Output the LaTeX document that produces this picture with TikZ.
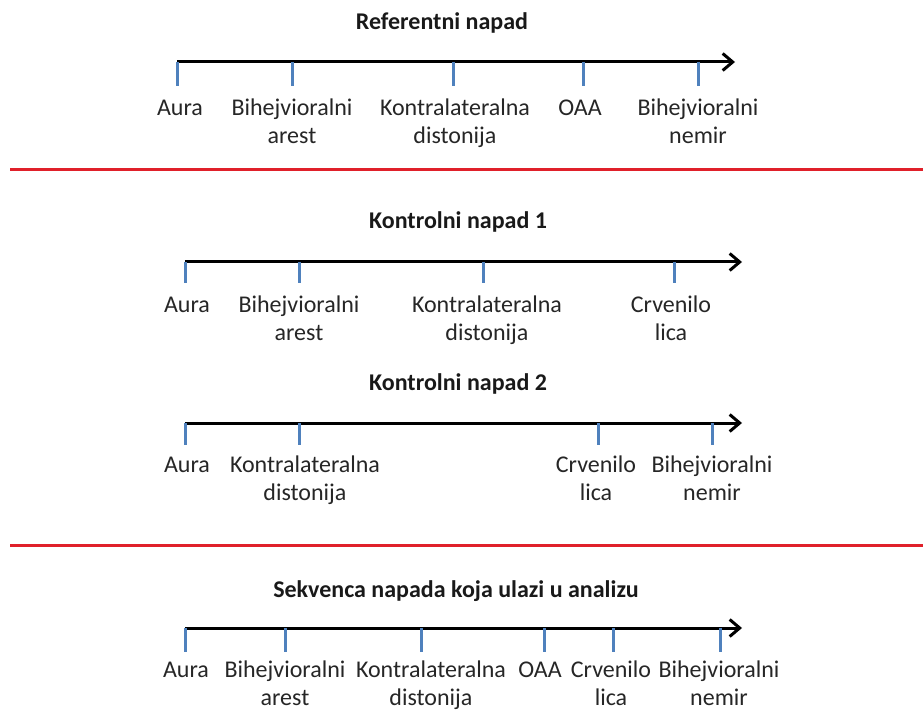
\documentclass[tikz,border=0pt]{standalone}
\usepackage{fontspec}
\setmainfont{Carlito}
\usetikzlibrary{arrows.meta}
\definecolor{tickblue}{HTML}{4F81BD}
\definecolor{sepred}{HTML}{E0202A}
\tikzstyle{timeaxis}=[%
  line width=3pt,
  -{Straight Barb[length=10pt,width=17pt]}
]
\tikzstyle{tickline}=[%
  tickblue,
  line width=3pt
]
\tikzstyle{event}=[%
  inner sep=0pt,
  anchor=north,
  align=center,
  text=black!85,
  font=\fontsize{24}{28}\selectfont
]
\tikzstyle{title}=[%
  inner sep=0pt,
  anchor=base,
  text=black!90,
  font=\fontsize{24}{28}\selectfont\bfseries
]
\tikzstyle{separator}=[%
  sepred,
  line width=3pt
]

\begin{document}
\begin{tikzpicture}[x=1pt,y=-1pt]
  \useasboundingbox (0,0) rectangle (923,711);
  % titles
  \node[title] (t1) at (442,30) {Referentni napad};
  \node[title] (t2) at (458,229) {Kontrolni napad 1};
  \node[title] (t3) at (458,390) {Kontrolni napad 2};
  \node[title] (t4) at (456,597) {Sekvenca napada koja ulazi u analizu};
  % red separators
  \coordinate (s1a) at (10,170);
  \coordinate (s1b) at (923,170);
  \coordinate (s2a) at (10,545);
  \coordinate (s2b) at (923,545);
  \draw[separator] (s1a) -- (s1b);
  \draw[separator] (s2a) -- (s2b);
  % time axes
  \foreach \ax/\y/\xa/\xb in {a1/62/177/735, a2/262/185/742, a3/423/185/742, a4/628/185/742} {%
    \coordinate (\ax s) at (\xa,\y);
    \coordinate (\ax e) at (\xb,\y);
    \draw[timeaxis] (\ax s) -- (\ax e);
  }
  % events on the reference seizure
  \foreach \x/\lx/\name/\txt in {177/180/r1/Aura, 292/292/r2/{Bihejvioralni\\arest},
      453/455/r3/{Kontralateralna\\distonija}, 583/580/r4/OAA,
      698/698/r5/{Bihejvioralni\\nemir}} {%
    \coordinate (\name) at (\x,62);
    \draw[tickline] (\name) -- ++(0,24) coordinate (\name e);
    \node[event] (\name l) at (\lx,95.4) {\strut\txt};
  }
  % control seizure 1
  \foreach \x/\lx/\name/\txt in {185/187/k1/Aura, 299/299/k2/{Bihejvioralni\\arest},
      483/487/k3/{Kontralateralna\\distonija}, 674/671/k4/{Crvenilo\\lica}} {%
    \coordinate (\name) at (\x,262);
    \draw[tickline] (\name) -- ++(0,21) coordinate (\name e);
    \node[event] (\name l) at (\lx,292.4) {\strut\txt};
  }
  % control seizure 2
  \foreach \x/\lx/\name/\txt in {185/187/m1/Aura, 299/305/m2/{Kontralateralna\\distonija},
      598/596/m3/{Crvenilo\\lica}, 712/712/m4/{Bihejvioralni\\nemir}} {%
    \coordinate (\name) at (\x,423);
    \draw[tickline] (\name) -- ++(0,22) coordinate (\name e);
    \node[event] (\name l) at (\lx,452.4) {\strut\txt};
  }
  % sequence used in the analysis
  \foreach \x/\lx/\name/\txt in {185/186/q1/Aura, 285/285/q2/{Bihejvioralni\\arest},
      421/431/q3/{Kontralateralna\\distonija}, 544/540/q4/OAA,
      613/611/q5/{Crvenilo\\lica}, 720/719/q6/{Bihejvioralni\\nemir}} {%
    \coordinate (\name) at (\x,628);
    \draw[tickline] (\name) -- ++(0,24) coordinate (\name e);
    \node[event] (\name l) at (\lx,657.4) {\strut\txt};
  }
\end{tikzpicture}
\end{document}
